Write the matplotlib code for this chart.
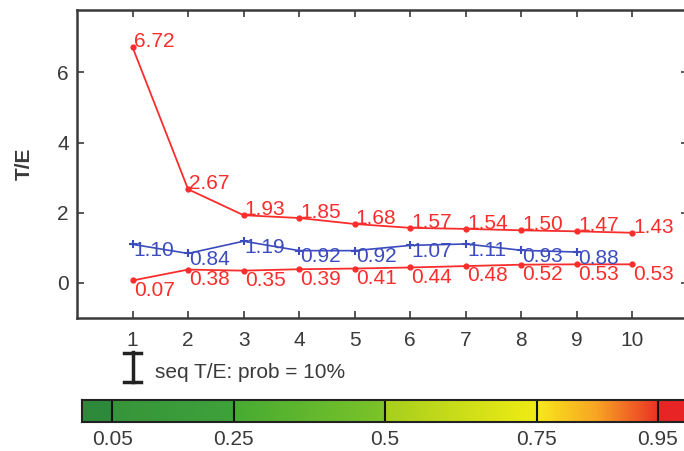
import matplotlib
matplotlib.use("Agg")
import matplotlib.pyplot as plt
import numpy as np
from matplotlib.colors import to_rgb
from matplotlib.lines import Line2D

plt.rcParams['font.family'] = ['Liberation Sans', 'DejaVu Sans']

# data
steps = [1, 2, 3, 4, 5, 6, 7, 8, 9, 10]
red_upper = [6.72, 2.67, 1.93, 1.85, 1.68, 1.57, 1.54, 1.50, 1.47, 1.43]
red_lower = [0.07, 0.38, 0.35, 0.39, 0.41, 0.44, 0.48, 0.52, 0.53, 0.53]
blue_steps = [1, 2, 3, 4, 5, 6, 7, 8, 9]
blue_vals = [1.10, 0.84, 1.19, 0.92, 0.92, 1.07, 1.11, 0.93, 0.88]
y_ticks = [0, 2, 4, 6]

cbar_ticks = [0.05, 0.25, 0.5, 0.75, 0.95]
cbar_tick_labels = ['0.05', '0.25', '0.5', '0.75', '0.95']
# colour stops of the probability bar (position, colour)
cbar_stops = [(0.0, '#2d8a3a'), (0.0499, '#2d8a3a'),
              (0.05, '#36953a'), (0.2499, '#3ea23a'),
              (0.25, '#47ab33'), (0.4999, '#7cc428'),
              (0.5, '#a6cf1e'), (0.7499, '#f0ec14'),
              (0.75, '#f8ea1a'), (0.85, '#f8a424'), (0.9499, '#ea3324'),
              (0.95, '#e82424'), (1.0, '#e82424')]

RED = '#fa2d2d'
BLUE = '#3c4cbe'
GRAY = '#3a3a3a'

fig = plt.figure(figsize=(6.84, 4.51), dpi=100)
ax = fig.add_axes([77 / 684, 1 - 318 / 451, 611 / 684, 308 / 451])

ax.plot(steps, red_upper, color=RED, lw=1.3, marker='o', ms=3.5, mfc=RED, mec=RED)
ax.plot(steps, red_lower, color=RED, lw=1.3, marker='o', ms=3.5, mfc=RED, mec=RED)
ax.plot(blue_steps, blue_vals, color=BLUE, lw=1.2, marker='+', ms=6, mew=1.5)

lab_kw = dict(fontsize=15, ha='left')
for x, v in zip(steps, red_upper):
    ax.text(x + 0.02, v, f'{v:.2f}', color=RED, va='baseline', **lab_kw)
for x, v in zip(steps, red_lower):
    ax.text(x + 0.02, v - 0.01, f'{v:.2f}', color=RED, va='top', **lab_kw)
for x, v in zip(blue_steps, blue_vals):
    ax.text(x + 0.02, v + 0.09, f'{v:.2f}', color=BLUE, va='top', **lab_kw)

ax.set_xlim(0, 11)
ax.set_ylim(-1, 7.78)
ax.set_xticks(steps)
ax.set_yticks(y_ticks)
ax.tick_params(direction='in', length=5, width=1.2, top=True, right=True,
               colors=GRAY, labelsize=15, pad=6)
ax.tick_params(axis='x', pad=9)
for sp in ax.spines.values():
    sp.set_linewidth(1.8)
    sp.set_color(GRAY)
ax.set_ylabel('T/E', fontsize=15, fontweight='bold', color=GRAY, labelpad=17)

# error bar legend
fig.lines.append(Line2D([132.5 / 684, 132.5 / 684], [1 - 352 / 451, 1 - 382 / 451],
                        transform=fig.transFigure, color='#222222', lw=2.5))
for yy in (353, 381.5):
    fig.lines.append(Line2D([124 / 684, 141 / 684], [1 - yy / 451, 1 - yy / 451],
                            transform=fig.transFigure, color='#222222', lw=2.5))
fig.text(155 / 684, 1 - 372 / 451, 'seq T/E: prob = 10%', fontsize=15,
         color=GRAY, va='center', ha='left')

# probability colour bar
cax = fig.add_axes([82 / 684, 1 - 422 / 451, 606 / 684, 22 / 451])
xs = np.linspace(0, 1, 800)
pos = [p for p, c in cbar_stops]
rgb = np.array([to_rgb(c) for p, c in cbar_stops])
img = np.stack([np.interp(xs, pos, rgb[:, i]) for i in range(3)], axis=-1)
cax.imshow(img[np.newaxis, :, :], aspect='auto', extent=[0, 1, 0, 1])
for t in cbar_ticks:
    cax.axvline(t, color='#111111', lw=1.5)
cax.set_xlim(0, 1)
cax.set_ylim(0, 1)
cax.set_yticks([])
cax.set_xticks(cbar_ticks)
cax.set_xticklabels(cbar_tick_labels)
cax.tick_params(axis='x', length=0, labelsize=15, colors=GRAY, pad=6)
for sp in cax.spines.values():
    sp.set_linewidth(1.5)
    sp.set_color('#222222')

fig.savefig('out.png', dpi=100)
